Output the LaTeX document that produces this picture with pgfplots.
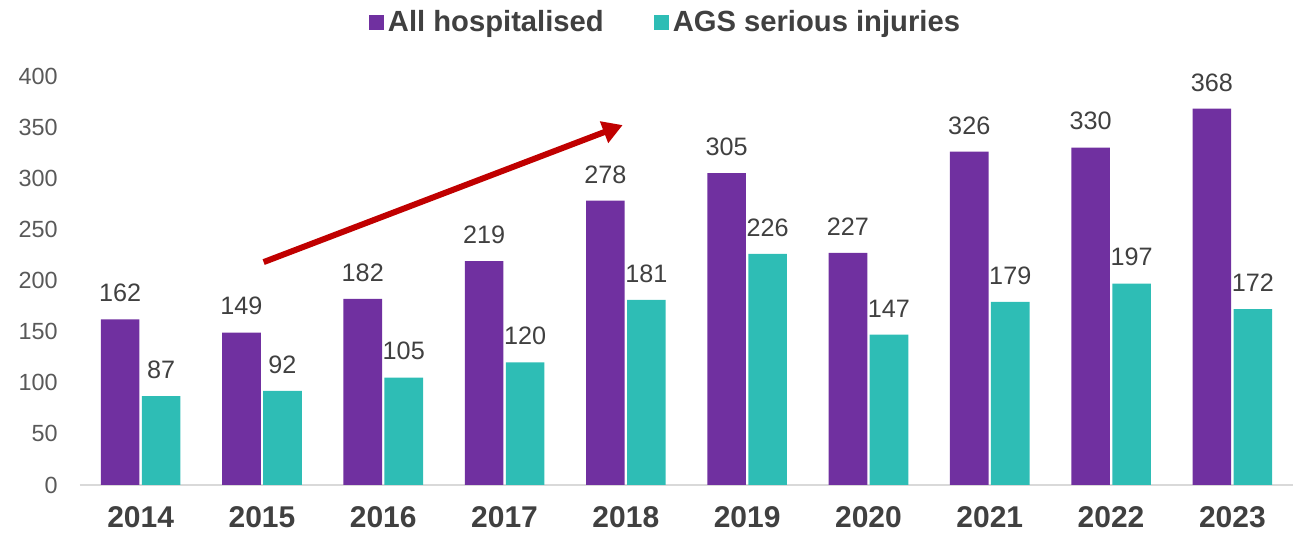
\documentclass[border=0pt]{standalone}
\usepackage{fontspec}
\setmainfont{Liberation Sans}
\usepackage{pgfplots}
\pgfplotsset{compat=1.18}
\usetikzlibrary{arrows.meta}
\definecolor{hosp}{HTML}{7030A0}
\definecolor{ags}{HTML}{2EBDB5}
\definecolor{txt}{HTML}{404040}
\definecolor{tick}{HTML}{595959}
\definecolor{arrowred}{HTML}{C00000}
\begin{document}
\begin{tikzpicture}
\useasboundingbox (-40pt,-24pt) rectangle (608.5pt,242.5pt);
\begin{axis}[
    scale only axis,
    width=606.5pt, height=204.5pt,
    ybar=1.2pt, bar width=19.3pt,
    xmin=-0.5, xmax=9.5,
    ymin=0, ymax=400,
    ytick={0,50,...,400},
    xtick=data,
    xticklabels={2014,2015,2016,2017,2018,2019,2020,2021,2022,2023},
    /pgf/number format/assume math mode=true,
    axis x line*=bottom,
    axis y line*=left,
    x axis line style={draw=black!15, line width=0.8pt},
    y axis line style={draw=none},
    major tick length=0pt,
    clip=false,
    yticklabel style={font=\fontsize{11.7}{14}\selectfont, text=tick, inner sep=0pt, xshift=-11pt},
    xticklabel style={font=\fontsize{15}{18}\selectfont\bfseries, text=txt, inner sep=0pt, yshift=-10.5pt},
    nodes near coords,
    every node near coord/.append style={font=\fontsize{12.6}{15}\selectfont, text=txt, anchor=south, inner sep=0pt, yshift=8.5pt},
    legend columns=2,
    legend style={draw=none, at={(0.4835,1.132)}, anchor=center,
        font=\fontsize{14.6}{17}\selectfont\bfseries, text=txt,
        /tikz/every even column/.append style={column sep=23pt},
        inner sep=0pt},
    legend cell align=left,
    legend image code/.code={\fill[#1] (0pt,-3.75pt) rectangle (7.5pt,3.75pt);},
]
\addplot[fill=hosp, draw=none] coordinates {
    (0,162) (1,149) (2,182) (3,219) (4,278)
    (5,305) (6,227) (7,326) (8,330) (9,368)
};
\addplot[fill=ags, draw=none] coordinates {
    (0,87) (1,92) (2,105) (3,120) (4,181)
    (5,226) (6,147) (7,179) (8,197) (9,172)
};
\legend{All hospitalised, AGS serious injuries}
\draw[arrowred, line width=3pt, -{Triangle[length=10pt, width=11pt]}]
    (axis cs:1.014,218) -- (axis cs:3.974,352);
\end{axis}
\end{tikzpicture}
\end{document}
